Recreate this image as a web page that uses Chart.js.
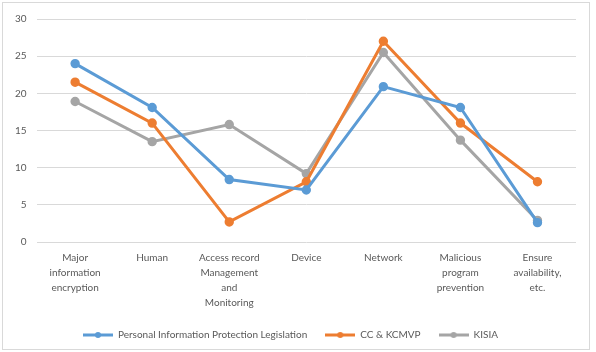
<!DOCTYPE html>
<html>
<head>
<meta charset="utf-8">
<script src="https://cdn.jsdelivr.net/npm/chart.js@4"></script>
<style>
  body { margin: 0; background: #fff; }
  .wrap { position: relative; width: 596px; height: 352px; }
  .frame { position: absolute; left: 2px; top: 2px; width: 586px; height: 346px; border: 1px solid #d9d9d9; pointer-events: none; }
</style>
</head>
<body>
<div class="wrap">
  <canvas id="chart" width="596" height="352"></canvas>
  <div class="frame"></div>
</div>
<script>
const categories = [
  ['Major', 'information', 'encryption'],
  'Human',
  ['Access record', 'Management', 'and', 'Monitoring'],
  'Device',
  'Network',
  ['Malicious', 'program', 'prevention'],
  ['Ensure', 'availability,', 'etc.']
];
const pipLegislation = [24, 18.1, 8.4, 7, 20.9, 18.1, 2.6];
const ccKcmvp = [21.5, 16, 2.7, 8.1, 27, 16, 8.1];
const kisia = [18.9, 13.5, 15.8, 9.2, 25.5, 13.7, 2.9];
const yTicks = [0, 5, 10, 15, 20, 25, 30];

const font = { family: 'Lato, "Open Sans", sans-serif', size: 10 };

// small line-with-dot swatch for the legend, like the Excel one
function legendMarker(color) {
  const c = document.createElement('canvas');
  c.width = 30;
  c.height = 8;
  const ctx = c.getContext('2d');
  ctx.strokeStyle = color;
  ctx.lineWidth = 3;
  ctx.beginPath();
  ctx.moveTo(0, 4);
  ctx.lineTo(30, 4);
  ctx.stroke();
  ctx.fillStyle = color;
  ctx.beginPath();
  ctx.arc(15, 4, 3, 0, Math.PI * 2);
  ctx.fill();
  return c;
}

function series(label, values, color) {
  return {
    label,
    data: values,
    borderColor: color,
    backgroundColor: color,
    borderWidth: 3,
    pointRadius: 3.2,
    pointHoverRadius: 3.2,
    tension: 0,
    marker: legendMarker(color),
  };
}

new Chart(document.getElementById('chart').getContext('2d'), {
  type: 'line',
  data: {
    labels: categories,
    datasets: [
      series('Personal Information Protection Legislation', pipLegislation, '#5b9bd5'),
      series('CC & KCMVP', ccKcmvp, '#ed7d31'),
      series('KISIA', kisia, '#a5a5a5'),
    ],
  },
  options: {
    responsive: false,
    animation: false,
    layout: { padding: { left: 5, right: 20, top: 19, bottom: 2 } },
    scales: {
      x: {
        offset: true,
        grid: { display: false },
        border: { display: false },
        ticks: { color: '#595959', font: { ...font, lineHeight: 1.5 }, maxRotation: 0, autoSkip: false, padding: 0 },
        afterFit(scale) { scale.height = 70; },
      },
      y: {
        min: 0,
        max: 30,
        afterBuildTicks(scale) { scale.ticks = yTicks.map(v => ({ value: v })); },
        grid: { color: '#d9d9d9', lineWidth: 1, drawTicks: false },
        border: { display: false },
        ticks: { color: '#595959', font, padding: 10 },
      },
    },
    plugins: {
      legend: {
        position: 'bottom',
        labels: {
          color: '#595959',
          font,
          usePointStyle: true,
          pointStyleWidth: 30,
          boxHeight: 8,
          padding: 18,
          generateLabels(chart) {
            return chart.data.datasets.map((ds, i) => ({
              text: ds.label,
              fontColor: '#595959',
              pointStyle: ds.marker,
              datasetIndex: i,
              hidden: false,
            }));
          },
        },
      },
      tooltip: { enabled: false },
    },
  },
});
</script>
</body>
</html>
